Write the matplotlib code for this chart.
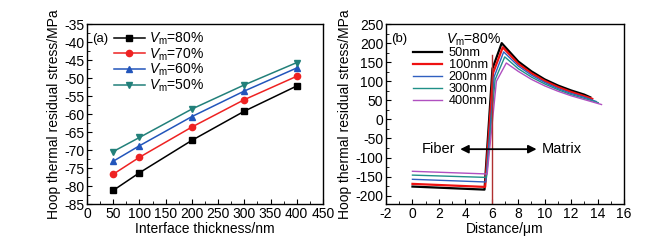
import matplotlib
matplotlib.use("Agg")
import matplotlib.pyplot as plt
from matplotlib.ticker import MultipleLocator

plt.rcParams['font.family'] = ['Liberation Sans', 'DejaVu Sans']
plt.rcParams['font.size'] = 9.5
plt.rcParams['axes.unicode_minus'] = False
plt.rcParams['mathtext.fontset'] = 'custom'
plt.rcParams['mathtext.it'] = 'Liberation Sans:italic'
plt.rcParams['mathtext.rm'] = 'Liberation Sans'

# (a) hoop stress vs interface thickness
thickness = [50, 100, 200, 300, 400]
vm_labels = ["80%", "70%", "60%", "50%"]
stress_80 = [-81.2, -76.3, -67.3, -59.2, -52.2]
stress_70 = [-76.7, -72.0, -63.6, -56.0, -49.5]
stress_60 = [-73.1, -68.8, -60.7, -53.6, -47.2]
stress_50 = [-70.4, -66.5, -58.6, -51.9, -45.7]

# (b) hoop stress along distance, Vm = 80%
nm_labels = ["50nm", "100nm", "200nm", "300nm", "400nm"]
dist_50 = [0, 5.45, 6.05, 6.75, 8, 9, 10, 11, 12, 13, 13.45]
sig_50 = [-176, -184, 133, 200, 152, 126, 105, 89, 76, 65, 58]
dist_100 = [0, 5.5, 6.1, 6.83, 8, 9, 10, 11, 12, 13, 13.6]
sig_100 = [-169, -177, 122, 189, 146, 121, 101, 85, 72, 61, 54]
dist_200 = [0, 5.55, 6.18, 6.9, 8, 9, 10, 11, 12, 13, 13.9]
sig_200 = [-157, -164, 112, 177, 140, 116, 97, 81, 68, 58, 47]
dist_300 = [0, 5.6, 6.25, 6.98, 8, 9, 10, 11, 12, 13, 14.05]
sig_300 = [-146, -152, 104, 164, 133, 111, 93, 78, 65, 55, 44]
dist_400 = [0, 5.65, 6.35, 7.1, 8, 9, 10, 11, 12, 13, 14.3]
sig_400 = [-136, -143, 100, 148, 126, 105, 88, 74, 62, 52, 39]

fig = plt.figure(figsize=(6.61, 2.48), dpi=100)
ax1 = fig.add_axes([0.1316, 0.177, 0.357, 0.726])
ax2 = fig.add_axes([0.584, 0.177, 0.360, 0.726])

# panel (a)
series_a = [stress_80, stress_70, stress_60, stress_50]
colors_a = ["black", "#ee2222", "#2255bb", "#22807a"]
markers_a = ["s", "o", "^", "v"]
for vals, c, m, lab in zip(series_a, colors_a, markers_a, vm_labels):
    ax1.plot(thickness, vals, color=c, marker=m, markersize=4.5, lw=1.1,
             label=r"$V_{\rm m}$=" + lab)
ax1.set_xlim(0, 450)
ax1.set_ylim(-85, -35)
ax1.xaxis.set_major_locator(MultipleLocator(50))
ax1.xaxis.set_minor_locator(MultipleLocator(25))
ax1.yaxis.set_major_locator(MultipleLocator(5))
ax1.yaxis.set_minor_locator(MultipleLocator(2.5))
ax1.set_xlabel("Interface thickness/nm", labelpad=1, fontsize=10)
ax1.set_ylabel("Hoop thermal residual stress/MPa", labelpad=2, fontsize=10)
ax1.text(0.02, 0.95, "(a)", transform=ax1.transAxes, va="top", ha="left")
ax1.legend(loc="upper left", bbox_to_anchor=(0.08, 1.01), frameon=False,
           handlelength=2.2, handletextpad=0.3, labelspacing=-0.05,
           borderaxespad=0.2, fontsize=10)

# panel (b)
series_b = [(dist_50, sig_50), (dist_100, sig_100), (dist_200, sig_200),
            (dist_300, sig_300), (dist_400, sig_400)]
colors_b = ["black", "#ee1111", "#3060c0", "#209088", "#b050c0"]
widths_b = [1.6, 1.6, 1.0, 1.0, 1.0]
for (xs, ys), c, w, lab in zip(series_b, colors_b, widths_b, nm_labels):
    ax2.plot(xs, ys, color=c, lw=w, label=lab)
ax2.plot([6, 6], [-222, 170], color="#b03030", lw=1.0)
ax2.annotate("", xy=(3.4, -78), xytext=(9.6, -78),
             arrowprops=dict(arrowstyle="<|-|>", color="black", lw=1.3,
                             mutation_scale=12))
ax2.text(3.2, -78, "Fiber", ha="right", va="center", fontsize=10.5)
ax2.text(9.8, -78, "Matrix", ha="left", va="center", fontsize=10.5)
ax2.set_xlim(-2, 16)
ax2.set_ylim(-222, 250)
ax2.xaxis.set_major_locator(MultipleLocator(2))
ax2.xaxis.set_minor_locator(MultipleLocator(1))
ax2.yaxis.set_major_locator(MultipleLocator(50))
ax2.yaxis.set_minor_locator(MultipleLocator(25))
ax2.set_xlabel("Distance/\u03bcm", labelpad=1, fontsize=10)
ax2.set_ylabel("Hoop thermal residual stress/MPa", labelpad=2, fontsize=10)
ax2.text(0.02, 0.95, "(b)", transform=ax2.transAxes, va="top", ha="left")
ax2.text(0.37, 0.96, r"$V_{\rm m}$=80%", transform=ax2.transAxes,
         va="top", ha="center", fontsize=10)
ax2.legend(loc="upper left", bbox_to_anchor=(0.08, 0.915), frameon=False,
           handlelength=2.3, handletextpad=0.5, labelspacing=0.0,
           borderaxespad=0.2, fontsize=9.2)

for ax in (ax1, ax2):
    ax.tick_params(which="both", direction="in", top=False, right=False,
                   labelsize=10, pad=2)
    ax.tick_params(which="major", length=3.5)
    ax.tick_params(which="minor", length=2)
    for s in ax.spines.values():
        s.set_linewidth(1.0)

fig.savefig("out.png", dpi=100)
